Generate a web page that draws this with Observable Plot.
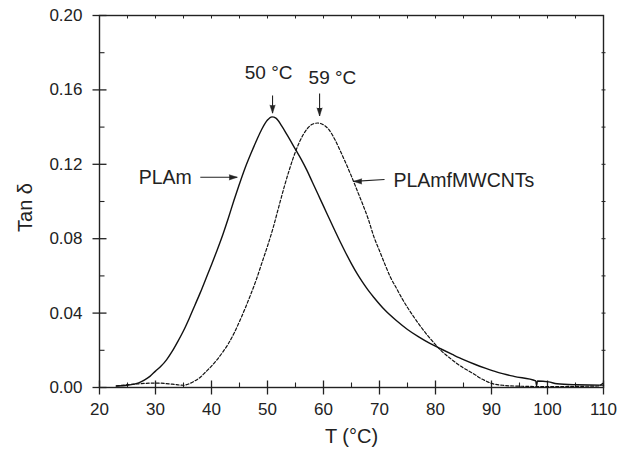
<!DOCTYPE html>
<html><head><meta charset="utf-8">
<script src="https://cdn.jsdelivr.net/npm/d3@7"></script>
<script src="https://cdn.jsdelivr.net/npm/@observablehq/plot@0.6"></script>
<style>body{margin:0;background:#fff} #chart{position:relative;width:630px;height:453px} svg{display:block}</style>
</head><body><div id="chart"></div>
<script>
// PLAm (solid)
const plamT = [23, 25, 27, 28, 29, 30, 31, 32, 33, 34, 35, 36, 37, 38, 39, 40, 41, 42, 43, 44, 45, 46, 47, 48, 49, 50, 50.8, 51.5, 52.5, 53.5, 55, 56, 57, 58, 59, 60, 61, 62, 63, 64, 65, 66, 67, 68, 69, 71, 73, 75, 77, 79, 81, 83, 85, 87, 89, 91, 94, 97.9, 98.05, 98.2, 100.2, 101.7, 105.3, 109.5, 110];
const plamV = [0.0008, 0.0012, 0.0025, 0.004, 0.006, 0.0088, 0.0115, 0.015, 0.0195, 0.0248, 0.0305, 0.037, 0.044, 0.051, 0.0585, 0.066, 0.0738, 0.082, 0.091, 0.1005, 0.1095, 0.118, 0.1255, 0.1325, 0.139, 0.1438, 0.1455, 0.1448, 0.1408, 0.1358, 0.128, 0.1228, 0.117, 0.1105, 0.104, 0.0975, 0.091, 0.0845, 0.0782, 0.0722, 0.0665, 0.0612, 0.0565, 0.0522, 0.0484, 0.0415, 0.036, 0.0312, 0.0272, 0.0237, 0.0207, 0.0178, 0.015, 0.0125, 0.0103, 0.0083, 0.006, 0.0036, 0.0009, 0.0035, 0.003, 0.002, 0.0015, 0.0013, 0.0013];
// PLAmfMWCNTs (dashed)
const cntT = [23, 25, 27, 30, 33, 35, 36, 37, 38, 39, 40, 41, 42, 43, 44, 45, 46, 47, 48, 49, 50, 51, 52, 53, 54, 55, 56, 57, 58, 59, 60, 61, 62, 63, 64, 65, 66, 67, 68, 69, 70, 71, 72, 73, 74, 75, 76, 77, 78, 79, 80, 81, 82, 83, 84, 85, 86, 87, 88, 89, 90, 92, 95, 100, 105, 109, 110];
const cntV = [0.0008, 0.0015, 0.002, 0.0024, 0.0018, 0.0012, 0.002, 0.0035, 0.0055, 0.0085, 0.0115, 0.015, 0.019, 0.0235, 0.029, 0.0355, 0.0425, 0.05, 0.058, 0.067, 0.076, 0.0858, 0.097, 0.108, 0.118, 0.1268, 0.1338, 0.1388, 0.1415, 0.1422, 0.1412, 0.1385, 0.1335, 0.1272, 0.1205, 0.1135, 0.106, 0.0985, 0.0905, 0.081, 0.0735, 0.066, 0.059, 0.0535, 0.048, 0.043, 0.0385, 0.0342, 0.0302, 0.0265, 0.023, 0.0198, 0.0172, 0.0148, 0.0125, 0.0105, 0.0088, 0.007, 0.005, 0.0035, 0.0022, 0.0012, 0.0007, 0.0005, 0.0006, 0.0008, 0.0025];

// tick values
const xMajor = [20, 30, 40, 50, 60, 70, 80, 90, 100, 110];
const xMinor = [25, 35, 45, 55, 65, 75, 85, 95, 105];
const xTop = [25, 30, 35, 40, 45, 50, 55, 60, 65, 70, 75, 80, 85, 90, 95, 100, 105];
const yMajor = [0, 0.04, 0.08, 0.12, 0.16, 0.20];
const yMinor = [0.02, 0.06, 0.10, 0.14, 0.18];
const yRight = [0.02, 0.04, 0.06, 0.08, 0.10, 0.12, 0.14, 0.16, 0.18];

// axis titles
const xTitle = "T (\u00B0C)";
const yTitle = "Tan \u03B4";

// peak annotations
const noteText = ["50 \u00B0C", "59 \u00B0C"];
const noteX = [50.2, 61.6];
const noteY = [0.1692, 0.1667];
const arrowX = [50.9, 59.3];
const arrowY1 = [0.157, 0.158];
const arrowY2 = [0.1475, 0.146];

// series labels
const seriesText = ["PLAm", "PLAmfMWCNTs"];
const seriesTX = [27.0, 72.5];
const seriesTY = [0.1128, 0.1112];
const sArrowX1 = [38.0, 70.9];
const sArrowX2 = [44.6, 65.4];
const sArrowY1 = [0.113, 0.1118];
const sArrowY2 = [0.113, 0.1108];
const sArrowRot = [90, -90];

const W = 630, H = 453, mL = 99, mR = 27, mT = 15, mB = 66;
const xDom = [20, 110], yDom = [0, 0.20];
const ink = "#222";
const font = "'Liberation Sans', Arial, Helvetica, sans-serif";
const blank = () => "";

// convert tick lengths in pixels into domain units for tick segments
const kx = (xDom[1] - xDom[0]) / (W - mL - mR);
const ky = (yDom[1] - yDom[0]) / (H - mT - mB);
const tickSegs = [
  ...xMajor.map(d => ({x1: d, x2: d, y1: yDom[0] - 7 * ky, y2: yDom[0] + 7 * ky, w: 1.3})),
  ...xMinor.map(d => ({x1: d, x2: d, y1: yDom[0], y2: yDom[0] + 5 * ky, w: 1.1})),
  ...xTop.map(d => ({x1: d, x2: d, y1: yDom[1], y2: yDom[1] - 3 * ky, w: 1})),
  ...yMajor.map(d => ({y1: d, y2: d, x1: xDom[0] - 7 * kx, x2: xDom[0] + 7 * kx, w: 1.3})),
  ...yMinor.map(d => ({y1: d, y2: d, x1: xDom[0], x2: xDom[0] + 5 * kx, w: 1.1})),
  ...yRight.map(d => ({y1: d, y2: d, x1: xDom[1] - 2 * kx, x2: xDom[1] + 2 * kx, w: 1}))
];

const plam = plamT.map((t, i) => ({t, v: plamV[i]}));
const cnt = cntT.map((t, i) => ({t, v: cntV[i]}));
const notes = noteText.map((s, i) => ({s, x: noteX[i], y: noteY[i], ax: arrowX[i], ay1: arrowY1[i], ay2: arrowY2[i]}));
const sNotes = seriesText.map((s, i) => ({s, x: seriesTX[i], y: seriesTY[i], x1: sArrowX1[i], x2: sArrowX2[i], y1: sArrowY1[i], y2: sArrowY2[i], rot: sArrowRot[i]}));

const common = {
  width: W, height: H,
  marginLeft: mL, marginRight: mR, marginTop: mT, marginBottom: mB
};

// layer 1: frame and tick labels
const base = Plot.plot({
  ...common,
  x: {domain: xDom},
  y: {domain: yDom},
  style: {fontFamily: font, fontSize: "17px", color: ink, background: "#fff"},
  marks: [
    Plot.axisX(xMajor, {tickSize: 0, tickPadding: 15, fontSize: 17, label: null, tickFormat: d => String(d)}),
    Plot.axisY(yMajor, {tickSize: 0, tickPadding: 17, fontSize: 17, label: null, tickFormat: d3.format(".2f")}),
    Plot.frame({stroke: ink, strokeWidth: 1.4})
  ]
});

// layer 2: tick marks, curves, annotations, axis titles
const overlay = Plot.plot({
  ...common,
  x: {domain: xDom, axis: null},
  y: {domain: yDom, axis: null},
  style: {fontFamily: font, fontSize: "19px", color: ink, background: "none", position: "absolute", left: "0px", top: "0px"},
  marks: [
    Plot.link(tickSegs.filter(d => d.w === 1.3), {x1: "x1", x2: "x2", y1: "y1", y2: "y2", stroke: ink, strokeWidth: 1.3}),
    Plot.link(tickSegs.filter(d => d.w === 1.1), {x1: "x1", x2: "x2", y1: "y1", y2: "y2", stroke: ink, strokeWidth: 1.1}),
    Plot.link(tickSegs.filter(d => d.w === 1), {x1: "x1", x2: "x2", y1: "y1", y2: "y2", stroke: ink, strokeWidth: 1}),
    Plot.line(plam, {x: "t", y: "v", stroke: "#111", strokeWidth: 1.4, curve: "monotone-x"}),
    Plot.line(cnt, {x: "t", y: "v", stroke: "#111", strokeWidth: 1.2, strokeDasharray: "3,2", curve: "monotone-x"}),
    Plot.text(notes, {x: "x", y: "y", text: "s", fontSize: 19, textAnchor: "middle", fill: ink}),
    Plot.link(notes, {x1: "ax", x2: "ax", y1: "ay1", y2: "ay2", stroke: ink, strokeWidth: 1.1}),
    Plot.vector(notes, {x: "ax", y: "ay2", shape: "spike", anchor: "end", length: 8, r: 2.6, rotate: 180, fill: ink, stroke: ink, strokeWidth: 0.5}),
    Plot.text(sNotes, {x: "x", y: "y", text: "s", fontSize: 19.5, textAnchor: "start", fill: ink}),
    Plot.link(sNotes, {x1: "x1", x2: "x2", y1: "y1", y2: "y2", stroke: ink, strokeWidth: 1.1}),
    Plot.vector(sNotes, {x: "x2", y: "y2", shape: "spike", anchor: "end", length: 8, r: 2.6, rotate: "rot", fill: ink, stroke: ink, strokeWidth: 0.5}),
    Plot.text([yTitle], {frameAnchor: "left", textAnchor: "middle", lineAnchor: "middle", dx: -74, dy: 6, rotate: -90, fontSize: 20, fill: ink}),
    Plot.text([xTitle], {frameAnchor: "bottom", textAnchor: "middle", lineAnchor: "middle", dy: 49, fontSize: 20, fill: ink})
  ]
});

const host = document.getElementById("chart");
host.appendChild(base);
host.appendChild(overlay);
</script>
</body></html>
